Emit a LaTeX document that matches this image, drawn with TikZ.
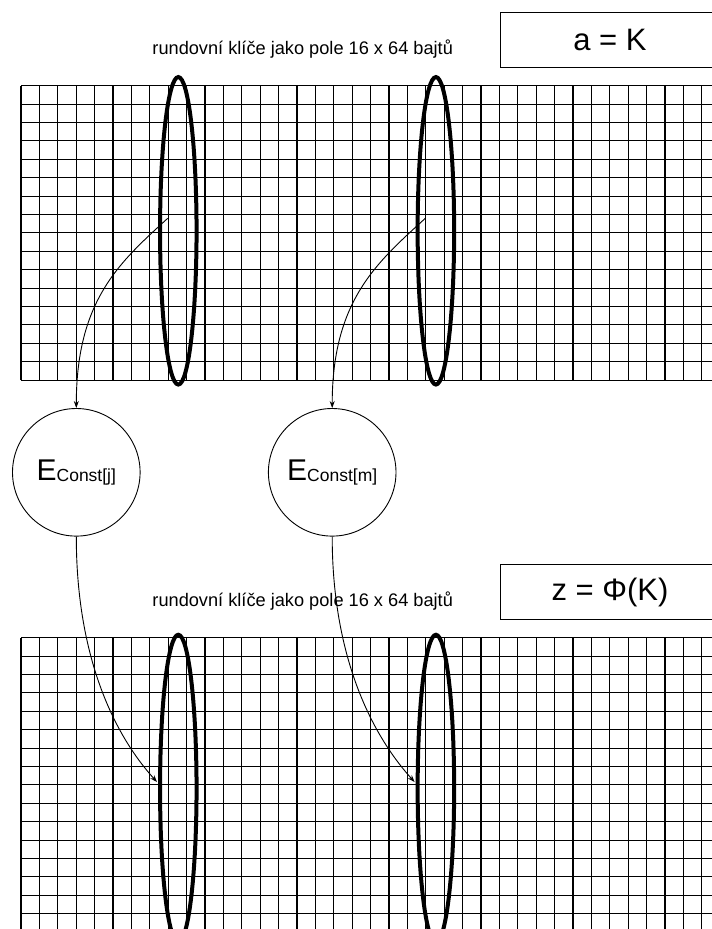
\documentclass[tikz,border=0pt]{standalone}
\usepackage{fontspec}
\setmainfont{Liberation Sans}
\usetikzlibrary{shapes.geometric,arrows.meta}
\begin{document}
\begin{tikzpicture}[x=1pt,y=-1pt,
  gridline/.style={line width=1.1pt, black},
  keyring/.style={draw, ellipse, line width=4pt, minimum width=36.5pt, minimum height=307.5pt, inner sep=0pt, outer sep=0pt},
  encnode/.style={draw, circle, line width=0.9pt, minimum size=127.6pt, inner sep=0pt},
  titlebox/.style={draw, line width=1pt, minimum width=220pt, minimum height=54.6pt, inner sep=0pt, font=\fontsize{31}{31}\selectfont},
  caption/.style={inner sep=0pt, font=\fontsize{18.2}{18.2}\selectfont},
  flow/.style={line width=0.9pt, -{Stealth[length=7pt,width=5pt]}}
]
\useasboundingbox (0,0) rectangle (712,929);
\clip (0,0) rectangle (712,929);
\foreach \gy in {85.7, 637.7} {
  \foreach \i in {0,...,37} \draw[gridline] (21+\i*18.4, \gy) -- (21+\i*18.4, \gy+294.4);
  \foreach \j in {0,...,16} \draw[gridline] (21, \gy+\j*18.4) -- (720, \gy+\j*18.4);
}
\node[keyring] (k1) at (178.3,230.8) {};
\node[keyring] (k2) at (435.9,230.8) {};
\node[keyring] (k3) at (178.3,788.5) {};
\node[keyring] (k4) at (435.9,788.5) {};
\node[encnode] (c1) at (76.3,472.3) {{\fontsize{30}{30}\selectfont E}\raisebox{-1.5pt}{\fontsize{17.5}{17.5}\selectfont Const[j]}};
\node[encnode] (c2) at (332.2,472.3) {{\fontsize{30}{30}\selectfont E}\raisebox{-1.5pt}{\fontsize{17.5}{17.5}\selectfont Const[m]}};
\node[titlebox] (b1) at (610,40) {a = K};
\node[titlebox] (b2) at (610,592) {z = Φ(K)};
\node[caption] (l1) at (302.7,49) {rundovní klíče jako pole 16 x 64 bajtů};
\node[caption] (l2) at (302.7,601) {rundovní klíče jako pole 16 x 64 bajtů};
\coordinate (s1) at (167.7,218.3);
\coordinate (s2) at (425.3,218.3);
\coordinate (t1) at (157,782);
\coordinate (t2) at (414.6,782);
\draw[flow] (s1) .. controls (120,262) and (76.3,300) .. (c1.north);
\draw[flow] (s2) .. controls (377.6,262) and (332.2,300) .. (c2.north);
\draw[flow] (c1.south) .. controls (76.3,650) and (110,730) .. (t1);
\draw[flow] (c2.south) .. controls (332.2,650) and (367.6,730) .. (t2);
\end{tikzpicture}
\end{document}
